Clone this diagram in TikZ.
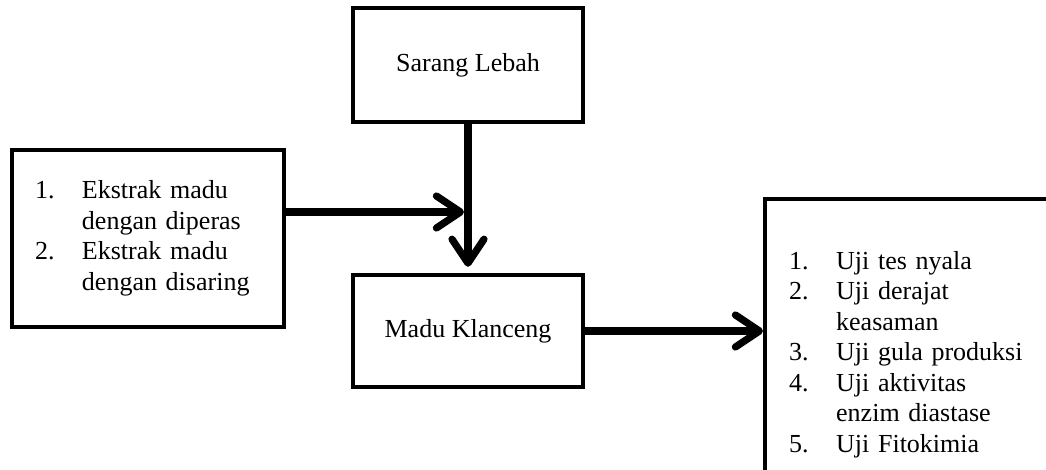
\documentclass[tikz,border=0pt]{standalone}
\usepackage{fontspec}
\setmainfont{Liberation Serif}
\usetikzlibrary{arrows.meta}

\tikzset{
  kotak/.style = {draw, rectangle, line width = 2.2pt, inner sep = 0pt},
  panah/.style = {line width = 3.6pt, -{Straight Barb[length = 12pt, width = 16pt, round]}}
}

\begin{document}
\begin{tikzpicture}[x = 0.5pt, y = -0.5pt, font = \fontsize{13}{15.25}\selectfont]
  \useasboundingbox (0, 0) rectangle (1046, 470);
  \clip (0, 0) rectangle (1046, 470);
  \node[kotak, minimum width = 115pt, minimum height = 57pt] at (468, 65) (sarang) {Sarang Lebah};
  \node[kotak, minimum width = 115pt, minimum height = 56pt] at (468, 331) (madu) {Madu Klanceng};
  \node[kotak, minimum height = 88.5pt, text width = 113pt, inner xsep = 11.5pt, align = left] at (148, 238.5) (ekstrak)
  {\noindent\begin{tabular}{@{}p{23.5pt}@{}l@{}}
    1. & Ekstrak madu\\
       & dengan diperas\\
    2. & Ekstrak madu\\
       & dengan disaring
  \end{tabular}};
  \node[kotak, anchor = north west, minimum height = 155.5pt, text width = 136pt, inner xsep = 12pt, align = left] at (763, 197) (uji)
  {\noindent\begin{tabular}{@{}p{23.5pt}@{}l@{}}
    1. & Uji tes nyala\\
    2. & Uji derajat\\
       & keasaman\\
    3. & Uji gula produksi\\
    4. & Uji aktivitas\\
       & enzim diastase\\
    5. & Uji Fitokimia
  \end{tabular}};
  \coordinate (temu) at (sarang.south |- 0, 212);
  \draw[panah, shorten > = 3pt] (sarang.south) -- (madu.north);
  \draw[panah, shorten > = 2pt] (ekstrak.east |- temu) -- (temu);
  \draw[panah] (madu.east) -- (madu.east -| uji.west);
\end{tikzpicture}
\end{document}
